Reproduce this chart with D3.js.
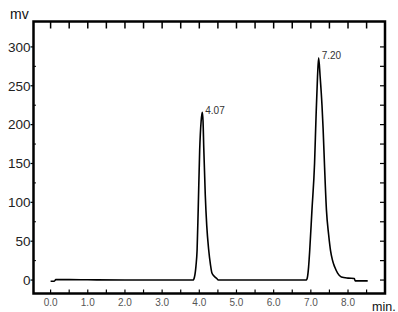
<!DOCTYPE html>
<html>
<head>
<meta charset="utf-8">
<script src="https://cdn.jsdelivr.net/npm/d3@7"></script>
<style>
  html, body { margin: 0; padding: 0; background: #fff; }
  svg { display: block; }
  text { font-family: "Liberation Sans", Arial, sans-serif; }
</style>
</head>
<body>
<svg id="chart" width="398" height="312"></svg>
<script>
// ---- data ----
const times = [0.00, 0.10, 0.14, 0.50, 1.00, 2.00, 3.00, 3.83, 3.87, 3.91, 3.94, 3.97, 4.01, 4.05, 4.08,
               4.10, 4.12, 4.16, 4.20, 4.25, 4.30, 4.34, 4.40, 4.47, 4.51, 6.88,
               6.91, 6.94, 6.97, 7.03, 7.10, 7.14, 7.18, 7.21, 7.25, 7.30, 7.33, 7.37, 7.42, 7.48, 7.53,
               7.58, 7.64, 7.72, 7.82, 8.00, 8.17, 8.19, 8.53];
const signal = [-1.5, -1.5, 0.5, 0.5, 0.3, 0, 0, 0, 4, 18, 38, 90, 167, 205, 216,
                205, 170, 110, 70, 40, 20, 9, 5, 2, 0, 0,
                4, 17, 38, 90, 150, 210, 262, 286, 262, 225, 195, 145, 90, 58, 38,
                26, 17, 9, 4, 2.5, 2, -1, -1];
const peakLabels = ["4.07", "7.20"];
const peakTimes = [4.08, 7.21];
const peakValues = [216, 286];
const xTickLabels = ["0.0", "1.0", "2.0", "3.0", "4.0", "5.0", "6.0", "7.0", "8.0"];
const xTickValues = [0, 1, 2, 3, 4, 5, 6, 7, 8];
const yTickValues = [0, 50, 100, 150, 200, 250, 300];
const yTickLabels = ["0", "50", "100", "150", "200", "250", "300"];

// ---- layout ----
const svg = d3.select("#chart");
const L = 33.5, R = 385, T = 21.5, B = 293.5;
const x = d3.scaleLinear().domain([-0.46, 8.995]).range([L, R]);
const y = d3.scaleLinear().domain([-17.3, 332.7]).range([B, T]);

// frame
svg.append("rect")
  .attr("x", L).attr("y", T).attr("width", R - L).attr("height", B - T)
  .attr("fill", "none").attr("stroke", "#000").attr("stroke-width", 2.5);

// x ticks every 0.5 min (top: down, bottom: up)
const xMinor = d3.range(0, 8.51, 0.5);
svg.append("g").selectAll("line").data(xMinor).join("line")
  .attr("x1", d => x(d)).attr("x2", d => x(d))
  .attr("y1", T).attr("y2", T + 7)
  .attr("stroke", "#000").attr("stroke-width", 1.5);
svg.append("g").selectAll("line").data(xMinor).join("line")
  .attr("x1", d => x(d)).attr("x2", d => x(d))
  .attr("y1", B).attr("y2", B - 4)
  .attr("stroke", "#000").attr("stroke-width", 1.2);

// y ticks every 25 on right (inward), left major outward + minor inward
const yMinor = d3.range(0, 301, 25);
svg.append("g").selectAll("line").data(yMinor).join("line")
  .attr("x1", R).attr("x2", R - 5)
  .attr("y1", d => y(d)).attr("y2", d => y(d))
  .attr("stroke", "#000").attr("stroke-width", 1.2);
svg.append("g").selectAll("line").data(yTickValues).join("line")
  .attr("x1", L).attr("x2", L - 3)
  .attr("y1", d => y(d)).attr("y2", d => y(d))
  .attr("stroke", "#000").attr("stroke-width", 1.2);
svg.append("g").selectAll("line").data(yMinor.filter(d => d % 50 !== 0)).join("line")
  .attr("x1", L).attr("x2", L + 2.5)
  .attr("y1", d => y(d)).attr("y2", d => y(d))
  .attr("stroke", "#000").attr("stroke-width", 1);

// y tick labels
svg.append("g").selectAll("text").data(yTickValues).join("text")
  .attr("x", 30.5).attr("y", d => y(d)).attr("dy", "0.36em")
  .attr("text-anchor", "end").attr("font-size", 13.5).attr("fill", "#222")
  .text((d, i) => yTickLabels[i]);

// x tick labels
svg.append("g").selectAll("text").data(xTickValues).join("text")
  .attr("x", d => x(d)).attr("y", 306)
  .attr("text-anchor", "middle").attr("font-size", 10).attr("fill", "#555")
  .text((d, i) => xTickLabels[i]);

// axis unit labels
svg.append("text").attr("x", 10).attr("y", 18.5).attr("font-size", 14).attr("fill", "#111").text("mv");
svg.append("text").attr("x", 372).attr("y", 310.5).attr("font-size", 12.5).attr("fill", "#111").text("min.");

// chromatogram trace
const pts = times.map((t, i) => [t, signal[i]]);
svg.append("path").datum(pts)
  .attr("fill", "none").attr("stroke", "#000").attr("stroke-width", 1.6)
  .attr("stroke-linejoin", "round")
  .attr("d", d3.line().x(d => x(d[0])).y(d => y(d[1])).curve(d3.curveMonotoneX));

// peak labels
svg.append("g").selectAll("text").data(peakLabels).join("text")
  .attr("x", (d, i) => x(peakTimes[i]) + 3)
  .attr("y", (d, i) => y(peakValues[i]) + 1.5)
  .attr("font-size", 10).attr("fill", "#333")
  .text(d => d);
</script>
</body>
</html>
